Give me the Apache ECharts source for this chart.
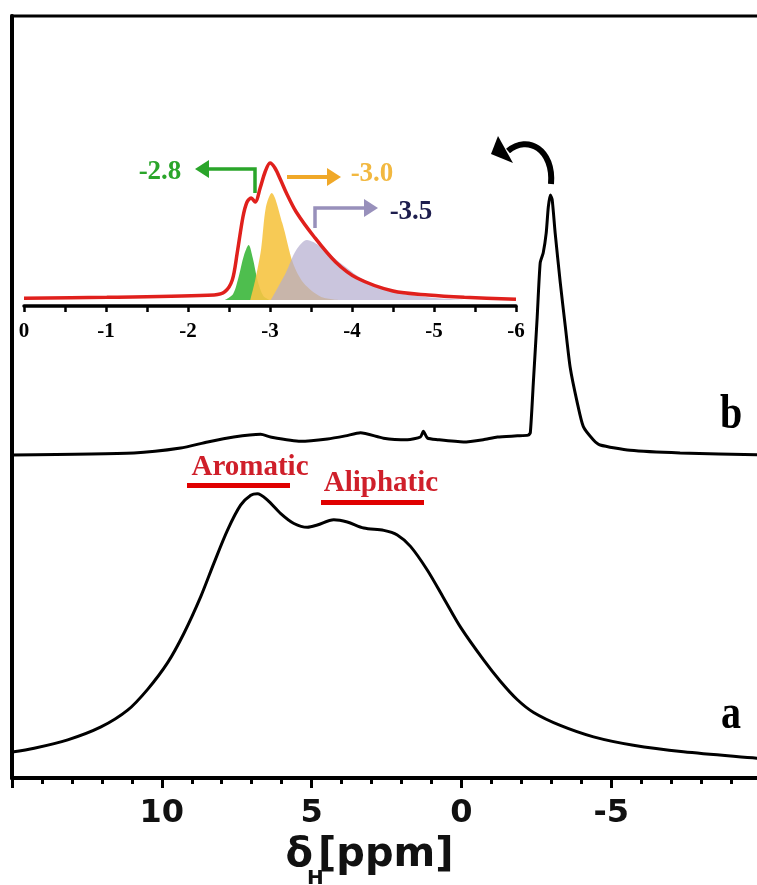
<!DOCTYPE html>
<html>
<head>
<meta charset="utf-8">
<script src="https://cdn.jsdelivr.net/npm/echarts@6/dist/echarts.min.js"></script>
<style>
  html, body { margin: 0; padding: 0; background: #fff; }
  #chart { width: 757px; height: 885px; }
</style>
</head>
<body>
<div id="chart"></div>
<script>
// spectrum a (ppm, intensity in arb. units)
const ppmA = [15, 14.26, 13.14, 12.03, 11.14, 10.48, 9.81, 9.26, 8.7, 8.26, 7.81, 7.37, 7.03, 6.81, 6.48, 6.03, 5.59, 5.14, 4.81, 4.26, 3.81, 3.26, 2.59, 2.14, 1.7, 1.14, 0.59, 0.03, -0.74, -1.3, -1.86, -2.41, -3.3, -4.41, -5.74, -7.41, -9.86, -10];
const intA = [3.4, 3.9, 5.0, 6.7, 8.9, 11.6, 15.1, 19.0, 23.8, 28.2, 32.5, 35.8, 37.1, 37.3, 36.5, 34.7, 33.4, 32.9, 33.2, 33.9, 33.6, 32.8, 32.5, 31.9, 30.4, 27.3, 23.6, 19.8, 15.5, 12.7, 10.3, 8.6, 6.9, 5.4, 4.3, 3.45, 2.6, 2.55];

// spectrum b (offset above a)
const ppmB = [15, 10.93, 9.37, 8.47, 7.6, 6.7, 6.37, 5.37, 4.47, 3.87, 3.37, 2.6, 1.8, 1.37, 1.27, 1.13, 0.8, -0.07, -0.73, -1.2, -1.87, -2.23, -2.3, -2.4, -2.53, -2.63, -2.73, -2.83, -2.9, -2.97, -3.03, -3.13, -3.3, -3.47, -3.63, -3.87, -4.07, -4.4, -4.63, -5.63, -7.3, -10];
const intB = [42.4, 42.65, 43.3, 44.1, 44.75, 45.1, 44.75, 44.2, 44.5, 44.9, 45.3, 44.6, 44.4, 44.75, 45.5, 44.6, 44.4, 44.1, 44.4, 44.75, 44.9, 45.0, 45.3, 51.8, 60.5, 67.6, 68.9, 71.5, 74.9, 76.5, 75.9, 71.5, 65.0, 59.2, 53.9, 49.2, 46.1, 44.4, 43.7, 43.0, 42.65, 42.4];

// inset: zoom of b between 0 and -6 ppm
const insetPpm = [0, -1.01, -2.32, -2.45, -2.54, -2.6, -2.67, -2.72, -2.77, -2.82, -2.88, -2.94, -3.0, -3.06, -3.13, -3.2, -3.32, -3.54, -3.8, -4.06, -4.5, -4.93, -5.37, -6.0];
const insetFit = [7.7, 8.7, 11, 14.3, 26, 53, 89, 104, 108, 104, 118, 134, 143, 138, 126, 113, 94, 69, 44, 28, 15, 11, 8.7, 6.7];

const ppmG = [-2.45, -2.55, -2.62, -2.68, -2.74, -2.79, -2.85, -2.92, -3.0];
const intG = [6, 12, 30, 50, 61, 48, 25, 10, 6];
const ppmY = [-2.76, -2.82, -2.89, -2.95, -3.02, -3.15, -3.28, -3.41, -3.62, -3.85];
const intY = [6, 26, 56, 99, 113, 83, 43, 23, 9.3, 6];
const ppmP = [-3.01, -3.19, -3.32, -3.45, -3.62, -3.89, -4.15, -4.5, -4.93, -5.37];
const intP = [6, 32.7, 56, 66, 59.3, 41, 26, 14.3, 8.7, 6];

const mainTicks = [10, 5, 0, -5];
const insetTicks = [0, -1, -2, -3, -4, -5, -6];

function pairs(xs, ys) {
  return xs.map((x, i) => [x, ys[i]]);
}

const serif = "'Liberation Serif', 'Times New Roman', serif";
const sans = "'DejaVu Sans', Arial, sans-serif";

const chart = echarts.init(document.getElementById('chart'));
chart.setOption({
  animation: false,
  backgroundColor: '#fff',
  grid: [
    { left: 12, top: 16, width: 749, bottom: 107, show: true, borderColor: '#000', borderWidth: 3,
      containLabel: false, outerBoundsMode: 'none' },
    { left: 24, top: 150, width: 492, bottom: 579, containLabel: false, outerBoundsMode: 'none' }
  ],
  xAxis: [
    {
      gridIndex: 0, type: 'value', min: -10, max: 15, interval: 5, inverse: true,
      axisLine: { onZero: false, lineStyle: { color: '#000', width: 4 } },
      axisTick: { inside: false, length: 10, lineStyle: { color: '#000', width: 3 } },
      minorTick: { show: true, splitNumber: 5, length: 6, lineStyle: { color: '#000', width: 3 } },
      splitLine: { show: false },
      axisLabel: {
        margin: 20, color: '#111', fontFamily: sans, fontWeight: 'bold', fontSize: 32,
        formatter: v => (mainTicks.includes(v) ? String(v) : '')
      }
    },
    {
      gridIndex: 1, type: 'value', min: -6, max: 0, interval: 0.5, inverse: true,
      axisLine: { onZero: false, lineStyle: { color: '#000', width: 3.5 } },
      axisTick: { inside: false, length: 6, lineStyle: { color: '#000', width: 2.5 } },
      splitLine: { show: false },
      axisLabel: {
        margin: 15, color: '#000', fontFamily: serif, fontWeight: 'bold', fontSize: 21,
        formatter: v => (insetTicks.includes(v) ? String(v) : '')
      }
    }
  ],
  yAxis: [
    {
      gridIndex: 0, type: 'value', min: 0, max: 100,
      axisLine: { show: true, onZero: false, lineStyle: { color: '#000', width: 4 } },
      axisTick: { show: false }, axisLabel: { show: false }, splitLine: { show: false }
    },
    {
      gridIndex: 1, type: 'value', min: 0, max: 156, show: false
    }
  ],
  series: [
    {
      name: 'a', type: 'line', xAxisIndex: 0, yAxisIndex: 0, data: pairs(ppmA, intA),
      showSymbol: false, smooth: 0.3,
      lineStyle: { color: '#000', width: 3 }
    },
    {
      name: 'b', type: 'line', xAxisIndex: 0, yAxisIndex: 0, data: pairs(ppmB, intB),
      showSymbol: false, smooth: 0.2,
      lineStyle: { color: '#000', width: 3 }
    },
    {
      name: '-2.8', type: 'line', xAxisIndex: 1, yAxisIndex: 1, data: pairs(ppmG, intG),
      showSymbol: false, smooth: 0.3, lineStyle: { width: 0 },
      areaStyle: { color: '#45bb45', opacity: 0.95, origin: 6 }
    },
    {
      name: '-3.0', type: 'line', xAxisIndex: 1, yAxisIndex: 1, data: pairs(ppmY, intY),
      showSymbol: false, smooth: 0.3, lineStyle: { width: 0 },
      areaStyle: { color: '#f6c443', opacity: 0.9, origin: 6 }
    },
    {
      name: '-3.5', type: 'line', xAxisIndex: 1, yAxisIndex: 1, data: pairs(ppmP, intP),
      showSymbol: false, smooth: 0.3, lineStyle: { width: 0 },
      areaStyle: { color: '#b4accf', opacity: 0.7, origin: 6 }
    },
    {
      name: 'fit', type: 'line', xAxisIndex: 1, yAxisIndex: 1, data: pairs(insetPpm, insetFit),
      showSymbol: false, smooth: 0.3, z: 5,
      lineStyle: { color: '#e0201c', width: 3.5 }
    }
  ],
  graphic: [
    // curved arrow above the main peak
    { type: 'bezierCurve', shape: { x1: 551, y1: 184, cpx1: 554, cpy1: 150, cpx2: 528, cpy2: 134, x2: 508, y2: 151 },
      style: { stroke: '#000', lineWidth: 6, fill: null } },
    { type: 'polygon', shape: { points: [[491, 154], [498, 136], [513, 163]] }, style: { fill: '#000' } },

    // green marker
    { type: 'polyline', shape: { points: [[255, 193], [255, 169], [207, 169]] }, style: { stroke: '#2aa52a', lineWidth: 3.5, fill: null } },
    { type: 'polygon', shape: { points: [[195, 169], [209, 160], [209, 178]] }, style: { fill: '#2aa52a' } },
    { type: 'text', x: 160, y: 172, style: { text: '-2.8', fill: '#2aa52a', font: 'bold 27px ' + serif, textAlign: 'center', textVerticalAlign: 'middle' } },

    // orange marker
    { type: 'line', shape: { x1: 287, y1: 177, x2: 329, y2: 177 }, style: { stroke: '#f0a828', lineWidth: 4 } },
    { type: 'polygon', shape: { points: [[341, 177], [327, 168], [327, 186]] }, style: { fill: '#f0a828' } },
    { type: 'text', x: 372, y: 174, style: { text: '-3.0', fill: '#f2b840', font: 'bold 27px ' + serif, textAlign: 'center', textVerticalAlign: 'middle' } },

    // purple marker
    { type: 'polyline', shape: { points: [[315, 228], [315, 208], [365, 208]] }, style: { stroke: '#9890bb', lineWidth: 3.5, fill: null } },
    { type: 'polygon', shape: { points: [[378, 208], [364, 199], [364, 217]] }, style: { fill: '#9890bb' } },
    { type: 'text', x: 411, y: 212, style: { text: '-3.5', fill: '#1e1e4e', font: 'bold 27px ' + serif, textAlign: 'center', textVerticalAlign: 'middle' } },

    // spectrum labels
    { type: 'text', x: 731, y: 416, scaleY: 1.2, style: { text: 'b', fill: '#000', font: 'bold 40px ' + serif, textAlign: 'center', textVerticalAlign: 'middle' } },
    { type: 'text', x: 731, y: 716, scaleY: 1.2, style: { text: 'a', fill: '#000', font: 'bold 40px ' + serif, textAlign: 'center', textVerticalAlign: 'middle' } },

    // region labels
    { type: 'text', x: 250, y: 468, style: { text: 'Aromatic', fill: '#cf1f2a', font: 'bold 29px ' + serif, textAlign: 'center', textVerticalAlign: 'middle' } },
    { type: 'rect', shape: { x: 187, y: 483, width: 103, height: 5 }, style: { fill: '#e00000' } },
    { type: 'text', x: 381, y: 484, style: { text: 'Aliphatic', fill: '#cf1f2a', font: 'bold 29px ' + serif, textAlign: 'center', textVerticalAlign: 'middle' } },
    { type: 'rect', shape: { x: 321, y: 500, width: 103, height: 5 }, style: { fill: '#e00000' } },

    // x axis title  δH[ppm]
    { type: 'text', x: 313, y: 856, style: { text: 'δ', fill: '#111', font: 'bold 40px ' + sans, textAlign: 'right', textVerticalAlign: 'middle' } },
    { type: 'text', x: 307, y: 879, style: { text: 'H', fill: '#111', font: 'bold 20px ' + sans, textAlign: 'left', textVerticalAlign: 'middle' } },
    { type: 'text', x: 318, y: 856, style: { text: '[ppm]', fill: '#111', font: 'bold 40px ' + sans, textAlign: 'left', textVerticalAlign: 'middle' } }
  ]
});
</script>
</body>
</html>
